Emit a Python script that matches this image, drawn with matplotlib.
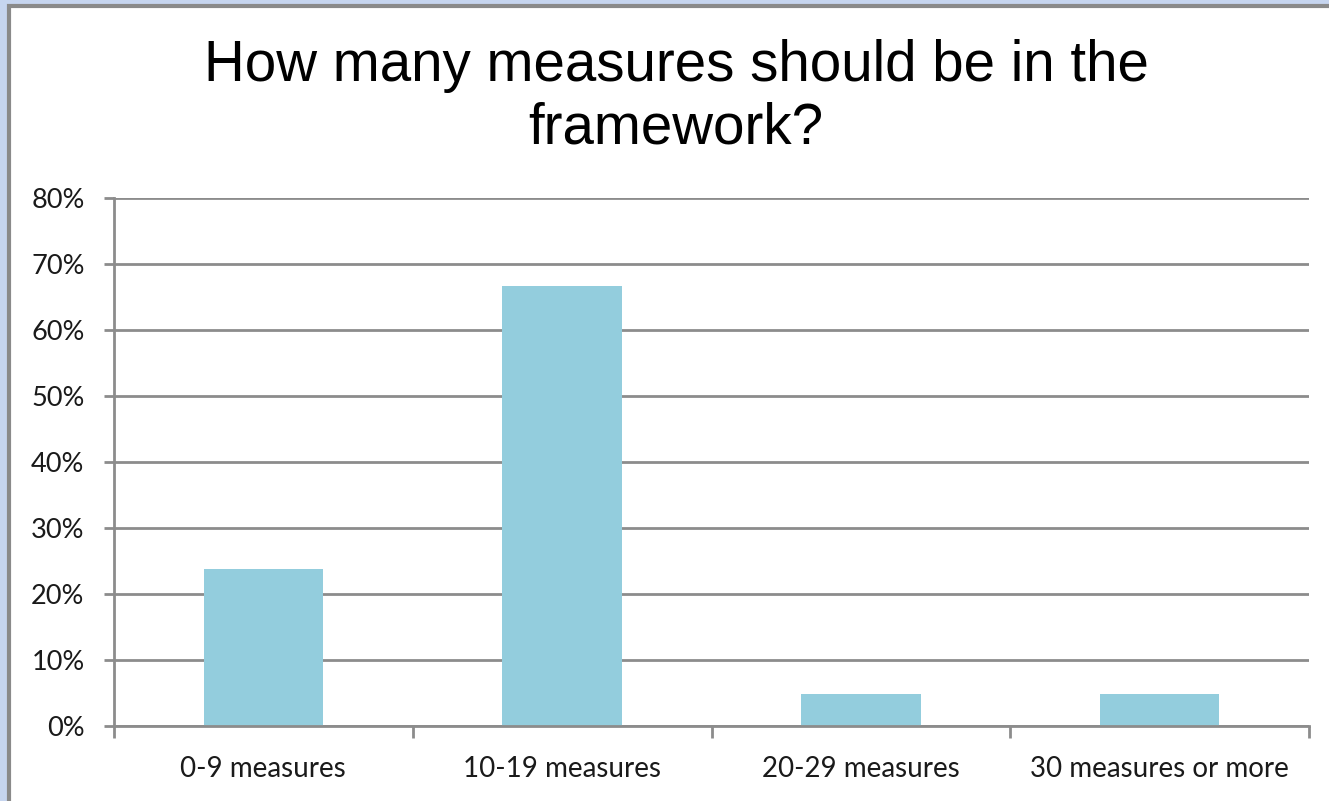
import matplotlib.pyplot as plt
from matplotlib.patches import Rectangle
from matplotlib.ticker import FuncFormatter

categories = ["0-9 measures", "10-19 measures", "20-29 measures", "30 measures or more"]
shares = [0.238, 0.667, 0.048, 0.048]
y_ticks = [0, 0.1, 0.2, 0.3, 0.4, 0.5, 0.6, 0.7, 0.8]

W, H = 1329, 801
fig = plt.figure(figsize=(W / 100, H / 100), dpi=100, facecolor="#c6d5ef")

# white chart panel with a grey frame on the left and top
panel = Rectangle((9 / W, -0.05), 1.1, 1.05 - 6 / H, transform=fig.transFigure,
                  facecolor="white", edgecolor="#8a8a8a", linewidth=3, zorder=-5)
fig.patches.append(panel)

ax = fig.add_axes([114 / W, 1 - 726 / H, (1309 - 114) / W, (726 - 198) / H])
ax.set_facecolor("none")
ax.set_zorder(2)

x = range(len(categories))
ax.bar(x, shares, width=0.4, color="#93cddd", zorder=3)

ax.set_xlim(-0.5, len(categories) - 0.5)
ax.set_ylim(0, 0.8)
ax.set_yticks(y_ticks)
ax.yaxis.set_major_formatter(FuncFormatter(lambda v, _: f"{v:.0%}"))
ax.grid(axis="y", color="#8c8c8c", linewidth=2, zorder=1)

ax.set_xticks([i - 0.5 for i in range(len(categories) + 1)], minor=False)
ax.set_xticklabels([""] * (len(categories) + 1))
ax.set_xticks(list(x), minor=True)
ax.set_xticklabels(categories, minor=True)
ax.tick_params(axis="x", which="major", length=8.6, width=2, color="#8c8c8c")
ax.tick_params(axis="x", which="minor", length=0, pad=21.5, labelsize=20)
ax.tick_params(axis="y", length=7.2, width=2, color="#8c8c8c", labelsize=19.5, pad=14)

for lbl in ax.get_xticklabels(minor=True) + ax.get_yticklabels():
    lbl.set_fontfamily("Lato")
    lbl.set_color("#1a1a1a")

for side in ["top", "right"]:
    ax.spines[side].set_visible(False)
for side in ["left", "bottom"]:
    ax.spines[side].set_color("#8c8c8c")
    ax.spines[side].set_linewidth(2)
    ax.spines[side].set_zorder(4)

fig.text(676 / W, 1 - 97 / H, "How many measures should be in the\nframework?",
         ha="center", va="center", fontsize=40.7, family="Liberation Sans",
         linespacing=1.2)

fig.savefig("out.png", dpi=100, facecolor=fig.get_facecolor())
